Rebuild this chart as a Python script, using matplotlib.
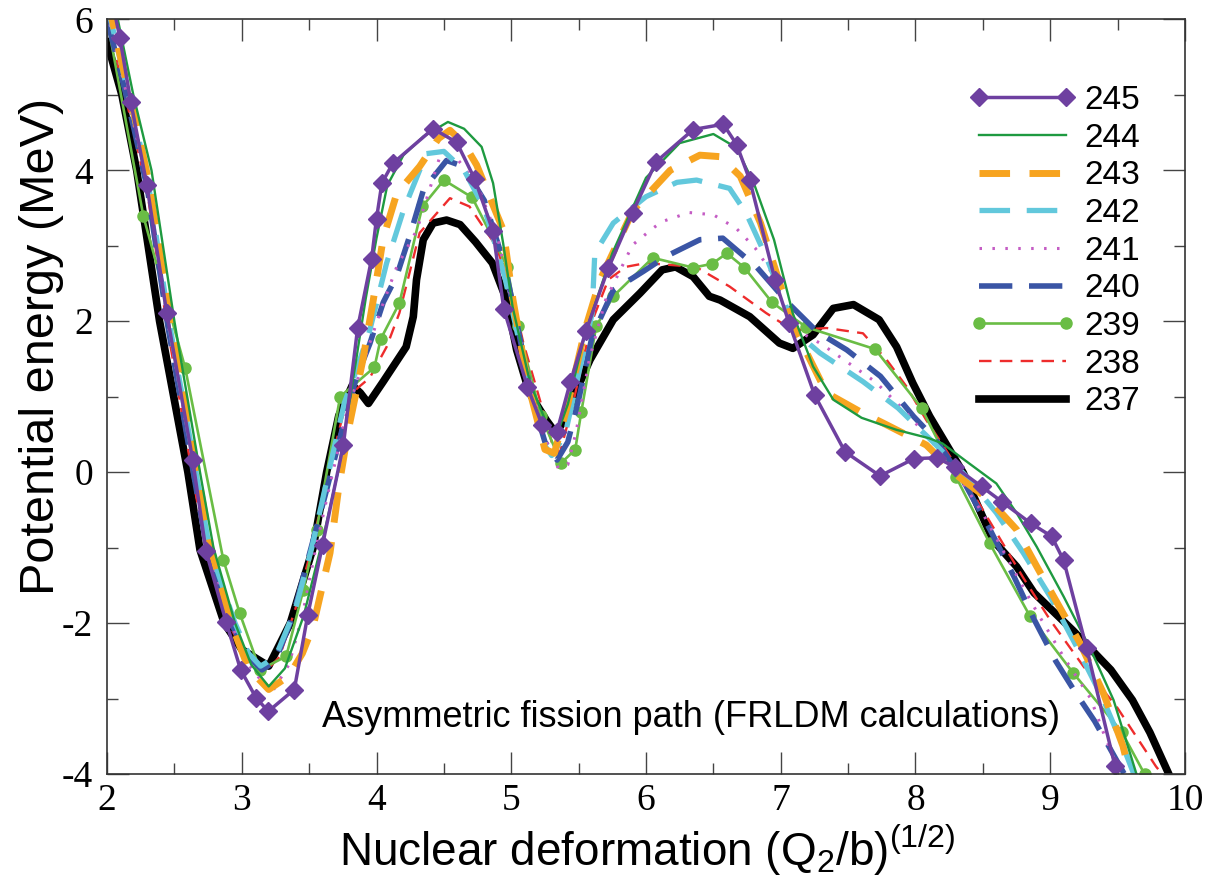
import matplotlib
matplotlib.use("Agg")
import matplotlib.pyplot as plt
from matplotlib.ticker import MultipleLocator

plt.rcParams['font.family'] = 'Liberation Serif'
plt.rcParams['mathtext.fontset'] = 'custom'
plt.rcParams['mathtext.rm'] = 'Liberation Sans'
plt.rcParams['lines.scale_dashes'] = False
plt.rcParams['axes.unicode_minus'] = False

# -----------------------------
# Data
# -----------------------------
labels = ["245", "244", "243", "242", "241", "240", "239", "238", "237"]

x_245 = [2.02, 2.096, 2.176, 2.295, 2.443, 2.636, 2.735, 2.883, 2.992, 3.106, 3.197, 3.39, 3.49, 3.60,
         3.754, 3.86, 3.964, 4.0, 4.04, 4.12, 4.42, 4.595, 4.73, 4.865, 4.945, 5.12, 5.228, 5.338, 5.438,
         5.555, 5.72, 5.9, 6.074, 6.351, 6.574, 6.673, 6.77, 6.957, 7.063, 7.252, 7.477, 7.737, 7.99,
         8.16, 8.29, 8.49, 8.64, 8.857, 9.01, 9.10, 9.27, 9.48, 9.54]
e_245 = [6.4, 5.75, 4.91, 3.81, 2.11, 0.16, -1.05, -1.98, -2.62, -2.99, -3.17, -2.88, -1.89, -0.96,
         0.36, 1.91, 2.83, 3.36, 3.83, 4.09, 4.55, 4.37, 3.88, 3.19, 2.16, 1.13, 0.63, 0.53, 1.19,
         1.87, 2.70, 3.44, 4.11, 4.54, 4.61, 4.34, 3.87, 2.55, 1.97, 1.02, 0.27, -0.05, 0.18,
         0.19, 0.07, -0.19, -0.39, -0.68, -0.85, -1.17, -2.33, -3.89, -4.3]

x_244 = [2.0, 2.08, 2.195, 2.33, 2.50, 2.69, 2.79, 2.95, 3.07, 3.2, 3.32, 3.46, 3.6, 3.72, 3.85, 3.92,
         4.0, 4.08, 4.2, 4.35, 4.53, 4.65, 4.78, 4.865, 4.94, 5.01, 5.14, 5.25, 5.33, 5.42, 5.55, 5.75,
         6.0, 6.25, 6.5, 6.67, 6.8, 6.95, 7.09, 7.24, 7.39, 7.6, 7.86, 8.1, 8.2, 8.38, 8.6, 8.75, 8.9,
         9.1, 9.3, 9.47, 9.64, 9.67]
e_244 = [6.4, 6.0, 5.0, 4.0, 2.0, 0.0, -1.0, -2.0, -2.55, -2.84, -2.6, -1.9, -0.9, 0.05, 1.5, 2.3,
         3.1, 3.8, 4.2, 4.45, 4.64, 4.55, 4.31, 3.83, 3.03, 2.19, 1.18, 0.7, 0.45, 0.9, 1.85, 2.9,
         3.9, 4.36, 4.48, 4.3, 3.83, 3.08, 2.1, 1.4, 0.96, 0.72, 0.56, 0.45, 0.38, 0.14, -0.15, -0.54, -0.99,
         -1.65, -2.35, -3.02, -4.0, -4.2]

x_243 = [2.0, 2.1, 2.2, 2.31, 2.47, 2.67, 2.77, 2.92, 3.05, 3.2, 3.35, 3.45, 3.53, 3.655, 3.72, 3.79,
         3.9, 3.976, 4.05, 4.15, 4.32, 4.46, 4.545, 4.65, 4.743, 4.94, 5.013, 5.12, 5.25, 5.32, 5.42,
         5.55, 5.66, 5.905, 6.18, 6.40, 6.55, 6.70, 6.85, 7.0, 7.12, 7.34, 7.59, 7.76, 8.08, 8.32, 8.55,
         8.75, 8.9, 9.095, 9.22, 9.395, 9.54, 9.59, 9.62]
e_243 = [6.3, 5.5, 4.75, 3.85, 2.0, 0.0, -1.0, -2.0, -2.6, -2.88, -2.7, -2.4, -2.04, -1.07, -0.2, 0.55,
         1.5, 2.28, 3.1, 3.69, 4.05, 4.42, 4.53, 4.35, 4.07, 3.21, 2.28, 1.2, 0.30, 0.25, 0.9,
         1.9, 2.55, 3.47, 4.0, 4.2, 4.18, 3.92, 3.30, 2.46, 1.84, 1.05, 0.8, 0.65, 0.36, -0.06, -0.37,
         -0.76, -1.25, -1.87, -2.26, -2.93, -3.63, -3.99, -4.3]

x_242 = [2.0, 2.1, 2.2, 2.3, 2.46, 2.66, 2.76, 2.95, 3.05, 3.14, 3.25, 3.4, 3.52, 3.62, 3.76, 3.85,
         3.95, 4.075, 4.2, 4.37, 4.5, 4.65, 4.8, 4.95, 5.05, 5.15, 5.25, 5.3, 5.4, 5.5, 5.6, 5.62,
         5.757, 6.0, 6.23, 6.375, 6.62, 6.744, 6.89, 7.02, 7.12, 7.29, 7.61, 7.87, 8.13, 8.38, 8.6,
         8.8, 9.0, 9.195, 9.395, 9.54, 9.62, 9.65]
e_242 = [6.2, 5.45, 4.7, 3.9, 2.0, 0.0, -1.0, -2.0, -2.4, -2.57, -2.45, -1.8, -1.0, -0.2, 0.91, 1.35,
         1.88, 2.77, 3.47, 4.22, 4.25, 4.0, 3.5, 2.6, 1.8, 1.0, 0.35, 0.22, 0.5, 1.3, 2.1, 2.9,
         3.3, 3.65, 3.84, 3.87, 3.76, 3.43, 2.86, 2.28, 1.84, 1.58, 1.2, 0.85, 0.4, -0.06, -0.54,
         -1.07, -1.65, -2.31, -3.02, -3.63, -4.0, -4.2]

x_241 = [2.0, 2.1, 2.2, 2.3, 2.45, 2.65, 2.75, 2.92, 3.05, 3.22, 3.35, 3.45, 3.55, 3.65, 3.78, 3.94,
         4.05, 4.15, 4.30, 4.47, 4.6, 4.75, 4.9, 5.0, 5.1, 5.2, 5.28, 5.35, 5.42, 5.48, 5.58, 5.70,
         5.90, 6.05, 6.12, 6.32, 6.50, 6.67, 6.81, 6.92, 7.0, 7.1, 7.3, 7.5, 7.7, 7.9, 8.1, 8.3,
         8.5, 8.7, 8.9, 9.1, 9.3, 9.405, 9.52, 9.55]
e_241 = [6.1, 5.35, 4.6, 3.8, 2.0, 0.0, -1.0, -2.0, -2.55, -2.93, -2.55, -1.9, -1.0, -0.2, 0.8, 1.66,
         2.24, 2.72, 3.21, 4.18, 4.15, 3.8, 3.1, 2.3, 1.5, 0.8, 0.3, 0.05, 0.10, 0.52, 1.5, 2.28,
         3.01, 3.23, 3.32, 3.44, 3.41, 3.23, 2.97, 2.68, 2.3, 1.9, 1.7, 1.45, 1.2, 0.85, 0.45, 0.0,
         -0.55, -1.2, -1.85, -2.45, -3.0, -3.5, -4.0, -4.2]

x_240 = [2.0, 2.1, 2.2, 2.3, 2.45, 2.64, 2.74, 2.92, 3.05, 3.15, 3.25, 3.38, 3.5, 3.62, 3.75, 3.85,
         3.95, 4.05, 4.15, 4.25, 4.35, 4.52, 4.645, 4.8, 4.95, 5.05, 5.15, 5.25, 5.34, 5.42, 5.505,
         5.6, 5.757, 5.98, 6.15, 6.40, 6.57, 6.82, 7.05, 7.27, 7.49, 7.74, 7.985, 8.15, 8.35, 8.55,
         8.73, 8.88, 9.04, 9.18, 9.33, 9.49, 9.55, 9.58]
e_240 = [6.0, 5.3, 4.55, 3.75, 1.95, 0.0, -1.0, -2.0, -2.45, -2.62, -2.5, -1.9, -1.1, -0.3, 0.6, 1.25,
         1.7, 2.25, 2.6, 3.15, 3.75, 4.13, 4.05, 3.6, 2.75, 1.9, 1.0, 0.4, 0.16, 0.4, 1.0,
         1.8, 2.41, 2.66, 2.86, 3.08, 3.10, 2.72, 2.25, 1.86, 1.62, 1.27, 0.74, 0.43, -0.1, -0.75,
         -1.38, -1.95, -2.5, -2.9, -3.3, -3.81, -4.0, -4.2]

x_239 = [2.0, 2.27, 2.58, 2.863, 2.985, 3.135, 3.33, 3.457, 3.556, 3.73, 3.985, 4.03, 4.17, 4.34, 4.50,
         4.71, 4.97, 5.05, 5.22, 5.37, 5.475, 5.52, 5.63, 5.757, 6.05, 6.35, 6.49, 6.60, 6.73, 6.935,
         7.19, 7.70, 8.045, 8.30, 8.55, 8.85, 9.17, 9.53, 9.70]
e_239 = [6.0, 3.39, 1.38, -1.16, -1.87, -2.62, -2.44, -1.56, -0.76, 1.0, 1.39, 1.76, 2.24, 3.52, 3.87,
         3.64, 2.72, 1.93, 0.75, 0.12, 0.30, 0.80, 1.93, 2.33, 2.84, 2.71, 2.76, 2.9, 2.71, 2.25,
         1.92, 1.63, 0.85, -0.06, -0.94, -1.91, -2.66, -3.44, -4.0]

x_238 = [2.0, 2.1, 2.2, 2.3, 2.44, 2.63, 2.73, 2.9, 3.05, 3.17, 3.28, 3.4, 3.52, 3.63, 3.75, 3.85,
         3.95, 4.075, 4.17, 4.32, 4.545, 4.69, 4.89, 5.0, 5.09, 5.22, 5.3, 5.36, 5.45, 5.6, 5.72,
         5.85, 6.0, 6.37, 6.62, 6.89, 7.09, 7.34, 7.61, 7.785, 7.935, 8.08, 8.21, 8.4, 8.6, 8.8,
         9.0, 9.245, 9.49, 9.785, 9.83, 9.86]
e_238 = [6.0, 5.25, 4.5, 3.7, 2.0, 0.0, -1.0, -2.0, -2.5, -2.65, -2.45, -1.8, -1.0, -0.1, 0.75, 1.1,
         1.25, 1.66, 2.11, 3.17, 3.63, 3.52, 2.99, 2.4, 1.71, 0.91, 0.4, 0.25, 0.85, 2.0, 2.55,
         2.72, 2.77, 2.72, 2.46, 2.11, 1.88, 1.91, 1.84, 1.49, 1.13, 0.69, 0.34, -0.2, -0.8, -1.4,
         -1.96, -2.57, -3.10, -3.90, -4.0, -4.2]

x_237 = [2.0, 2.11, 2.22, 2.39, 2.60, 2.69, 2.87, 3.0, 3.2, 3.36, 3.53, 3.63, 3.72, 3.82, 3.88, 3.94,
         4.05, 4.22, 4.273, 4.297, 4.347, 4.42, 4.52, 4.62, 4.735, 4.86, 4.965, 5.04, 5.135, 5.26, 5.33,
         5.40, 5.5, 5.585, 5.757, 5.955, 6.12, 6.22, 6.35, 6.47, 6.55, 6.77, 6.99, 7.09, 7.24, 7.39,
         7.54, 7.73, 7.86, 7.98, 8.105, 8.355, 8.575, 8.75, 8.88, 9.17, 9.45, 9.61, 9.74, 9.88, 9.92]
e_237 = [5.70, 5.0, 4.0, 2.0, 0.0, -1.03, -2.0, -2.35, -2.57, -2.0, -1.0, 0.0, 0.75, 1.15, 1.05, 0.91,
         1.2, 1.66, 2.06, 2.55, 3.08, 3.30, 3.34, 3.28, 3.05, 2.77, 2.28, 1.62, 1.05, 0.69, 0.52,
         0.7, 1.15, 1.49, 2.02, 2.37, 2.68, 2.72, 2.59, 2.33, 2.28, 2.06, 1.71, 1.64, 1.82, 2.17,
         2.22, 2.02, 1.66, 1.18, 0.74, -0.01, -0.90, -1.25, -1.6, -2.1, -2.62, -3.02, -3.45, -4.0, -4.2]

# -----------------------------
# Plotting
# -----------------------------
fig = plt.figure(figsize=(12.12, 8.90), dpi=100)
ax = fig.add_axes([0.0883, 0.1303, 0.8894, 0.848])

# drawn bottom (237) to top (245)
h237, = ax.plot(x_237, e_237, color="black", lw=5.5, label="237")
h238, = ax.plot(x_238, e_238, color="#ee2c2c", lw=1.7, dashes=(9, 6), label="238")
h239, = ax.plot(x_239, e_239, color="#6abd45", lw=1.9, marker="o", ms=8, label="239")
h240, = ax.plot(x_240, e_240, color="#3a55a5", lw=4.0, dashes=(24, 12), label="240")
h241, = ax.plot(x_241, e_241, color="#c45cc4", lw=2.2, dashes=(1.8, 7.5), label="241")
h242, = ax.plot(x_242, e_242, color="#62c8dc", lw=3.8, dashes=(22, 12), label="242")
h243, = ax.plot(x_243, e_243, color="#f7a420", lw=5.0, dashes=(22, 14), label="243")
h244, = ax.plot(x_244, e_244, color="#1e9a40", lw=1.7, label="244")
h245, = ax.plot(x_245, e_245, color="#6e40a0", lw=2.5, marker="D", ms=9, label="245")

ax.set_xlim(2, 10)
ax.set_ylim(-4, 6)
ax.xaxis.set_major_locator(MultipleLocator(1))
ax.xaxis.set_minor_locator(MultipleLocator(0.5))
ax.yaxis.set_major_locator(MultipleLocator(2))
ax.yaxis.set_minor_locator(MultipleLocator(1))
ax.tick_params(which="both", direction="in", top=True, right=True, width=1.0, color="#444444")
ax.tick_params(which="major", length=16, labelsize=27)
ax.tick_params(which="minor", length=8)
ax.tick_params(axis="y", pad=10)
ax.tick_params(axis="x", pad=7)
for s in ax.spines.values():
    s.set_linewidth(1.2)
    s.set_color("#333333")

ax.set_xlabel(r"Nuclear deformation (Q$_\mathrm{2}$/b)$^\mathrm{(1/2)}$",
              fontsize=33, family="Liberation Sans")
ax.set_ylabel("Potential energy (MeV)", fontsize=35, family="Liberation Sans")
ax.xaxis.set_label_coords(0.501, -0.064)
ax.yaxis.set_label_coords(-0.040, 0.566)

ax.text(3.596, -3.254, "Asymmetric fission path (FRLDM calculations)",
        fontsize=26, family="Liberation Sans", ha="left", va="center")

handles = [h245, h244, h243, h242, h241, h240, h239, h238, h237]
ax.legend(handles, labels, loc="upper left", bbox_to_anchor=(0.80, 0.913),
          frameon=False, borderpad=0, borderaxespad=0, handlelength=3.2,
          handletextpad=0.25, labelspacing=0.2, numpoints=2,
          prop={"family": "Liberation Sans", "size": 24})

fig.savefig("out.png", dpi=100)
